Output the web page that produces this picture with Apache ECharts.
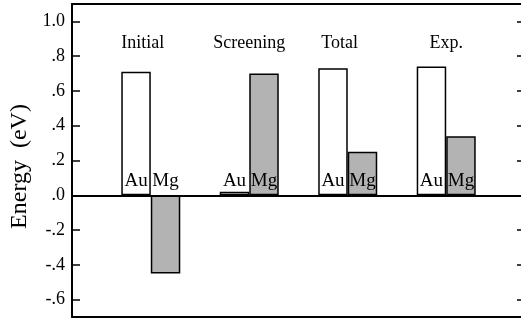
<!DOCTYPE html>
<html>
<head>
<meta charset="utf-8">
<script src="https://cdn.jsdelivr.net/npm/echarts@6/dist/echarts.min.js"></script>
<style>
  html, body { margin: 0; padding: 0; background: #fff; }
  #chart { width: 521px; height: 324px; }
</style>
</head>
<body>
<div id="chart"></div>
<script>
// Energy contributions for Au and Mg at each stage
const categories = ['Initial', 'Screening', 'Total', 'Exp.'];
const metalNames = ['Au', 'Mg'];
const auEnergy = [0.71, 0.02, 0.73, 0.74];
const mgEnergy = [-0.45, 0.70, 0.25, 0.34];
const yTicks = [-0.6, -0.4, -0.2, 0.0, 0.2, 0.4, 0.6, 0.8, 1.0];

const FONT = '"Liberation Serif", "Times New Roman", serif';
const BAR_W = 29.5;
const groupPos = categories.map((c, i) => i + 1);

// ".8" / "-.2" style tick labels
function fmtTick(v) {
  return v.toFixed(1).replace(/^(-?)0\./, '$1.');
}

// nudges for the stage captions (text-box padding)
const captionRich = {
  l8: { padding: [0, 16, 0, 0] },
  n: {}
};
const captionStyle = { Initial: 'l8', Total: 'l8' };

const chart = echarts.init(document.getElementById('chart'), null, { renderer: 'canvas' });

chart.setOption({
  animation: false,
  backgroundColor: '#fff',
  textStyle: { fontFamily: FONT, color: '#000' },
  grid: { left: 72, right: -4, top: 4, bottom: 7, containLabel: false, outerBoundsMode: 'none' },
  xAxis: [
    {
      type: 'value', position: 'bottom', min: 0.2, max: 4.8,
      axisLine: { show: true, onZero: false, lineStyle: { color: '#000', width: 2 } },
      axisTick: { show: false }, axisLabel: { show: false }, splitLine: { show: false }
    },
    {
      type: 'value', position: 'top', min: 0.2, max: 4.8,
      axisLine: { show: true, onZero: false, lineStyle: { color: '#000', width: 2 } },
      axisTick: { show: false }, splitLine: { show: false },
      axisLabel: {
        show: true, inside: true, margin: 30,
        customValues: groupPos,
        fontFamily: FONT, fontSize: 18, color: '#000',
        formatter: v => {
          const name = categories[Math.round(v) - 1];
          return '{' + (captionStyle[name] || 'n') + '|' + name + '}';
        },
        rich: {
          l8: Object.assign({ fontFamily: FONT, fontSize: 18, color: '#000' }, captionRich.l8),
          n: { fontFamily: FONT, fontSize: 18, color: '#000' }
        }
      }
    }
  ],
  yAxis: [
    {
      type: 'value', position: 'left', min: -0.7, max: 1.1,
      name: 'Energy  (eV)', nameLocation: 'middle', nameGap: 40,
      nameTextStyle: { fontFamily: FONT, fontSize: 24, color: '#000', padding: [0, 12, 0, 0] },
      axisLine: { show: true, onZero: false, lineStyle: { color: '#000', width: 2 } },
      axisTick: { show: true, inside: true, length: 8, customValues: yTicks, lineStyle: { color: '#000', width: 1.5 } },
      axisLabel: {
        show: true, margin: 7, customValues: yTicks, formatter: fmtTick,
        fontFamily: FONT, fontSize: 18, color: '#000'
      },
      splitLine: { show: false }
    },
    {
      type: 'value', position: 'right', min: -0.7, max: 1.1,
      axisLine: { show: true, onZero: false, lineStyle: { color: '#000', width: 2 } },
      axisTick: { show: true, inside: true, length: 8, customValues: yTicks, lineStyle: { color: '#000', width: 1.5 } },
      axisLabel: { show: false },
      splitLine: { show: false }
    }
  ],
  series: [
    {
      name: 'Au', type: 'bar', xAxisIndex: 0, yAxisIndex: 0,
      barWidth: BAR_W, barGap: '0%',
      itemStyle: { color: '#ffffff', borderColor: '#000', borderWidth: 1.5 },
      data: auEnergy.map((v, i) => [groupPos[i], v]),
      markLine: {
        silent: true, symbol: 'none', label: { show: false },
        lineStyle: { color: '#000', width: 2, type: 'solid' },
        data: [{ yAxis: 0 }]
      }
    },
    {
      name: 'Mg', type: 'bar', xAxisIndex: 0, yAxisIndex: 0,
      barWidth: BAR_W, barGap: '0%',
      itemStyle: { color: '#b3b3b3', borderColor: '#000', borderWidth: 1.5 },
      data: mgEnergy.map((v, i) => [groupPos[i], v])
    },
    {
      // "Au" / "Mg" tags sitting on the zero line of each pair
      type: 'custom', xAxisIndex: 0, yAxisIndex: 0, z: 5, silent: true,
      data: groupPos.map(x => [x, 0]),
      renderItem: (params, api) => {
        const p = api.coord([api.value(0), api.value(1)]);
        return {
          type: 'group',
          children: metalNames.map((n, j) => ({
            type: 'text',
            x: p[0] + (j === 0 ? -1 : 1) * BAR_W / 2,
            y: p[1] - 5,
            style: {
              text: n, fill: '#000',
              font: '19px ' + FONT,
              align: 'center', verticalAlign: 'bottom'
            }
          }))
        };
      }
    }
  ]
});
</script>
</body>
</html>
